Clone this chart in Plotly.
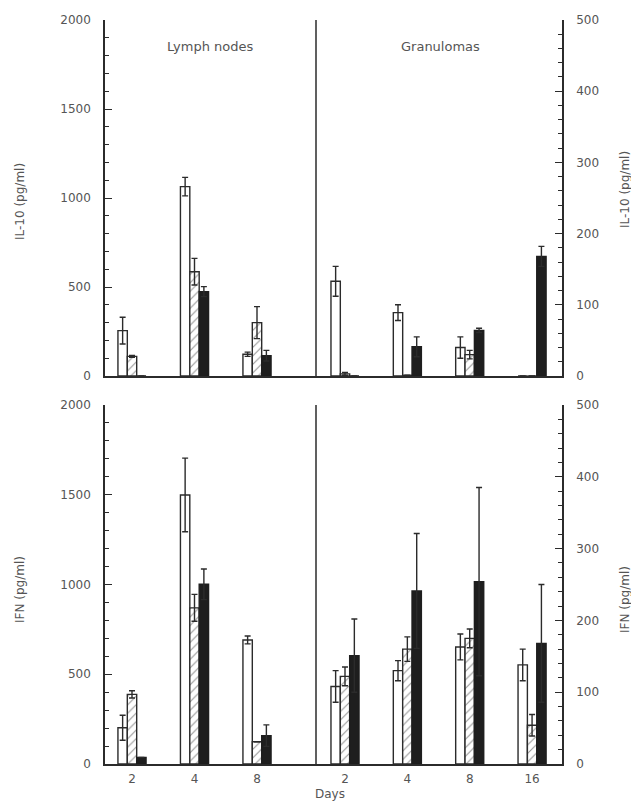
import plotly.graph_objects as go

# ---------------- data ----------------
days_lymph = ["2", "4", "8"]
days_gran = ["2", "4", "8", "16"]

# IL-10 (pg/ml), lymph nodes (left scale 0-2000)
il10_lymph_open = [255, 1064, 122]
il10_lymph_open_err = [75, 52, 12]
il10_lymph_hatch = [110, 586, 300]
il10_lymph_hatch_err = [5, 75, 90]
il10_lymph_solid = [0, 474, 114]
il10_lymph_solid_err = [0, 28, 30]

# IL-10 (pg/ml), granulomas (right scale 0-500)
il10_gran_open = [133, 89, 40, 0]
il10_gran_open_err = [21, 11, 15, 0]
il10_gran_hatch = [3, 1, 30, 0]
il10_gran_hatch_err = [2, 0, 6, 0]
il10_gran_solid = [0, 41, 64, 168]
il10_gran_solid_err = [0, 14, 3, 14]

# IFN (pg/ml), lymph nodes
ifn_lymph_open = [202, 1499, 691]
ifn_lymph_open_err = [70, 205, 22]
ifn_lymph_hatch = [388, 870, 124]
ifn_lymph_hatch_err = [20, 75, 0]
ifn_lymph_solid = [37, 1001, 158]
ifn_lymph_solid_err = [0, 85, 60]

# IFN (pg/ml), granulomas
ifn_gran_open = [108, 130, 163, 138]
ifn_gran_open_err = [22, 14, 18, 22]
ifn_gran_hatch = [122, 160, 175, 54]
ifn_gran_hatch_err = [13, 17, 13, 15]
ifn_gran_solid = [151, 241, 254, 168]
ifn_gran_solid_err = [51, 80, 131, 82]

# ---------------- style ----------------
PAGE_OFF = 8          # default body margin of the page
W, H = 631, 794
INK = "#2b2b2b"
TXT = "#555555"
FONT = "DejaVu Sans"


def px(x):
    return (x - PAGE_OFF) / W


def py(y):
    return 1 - (y - PAGE_OFF) / H


BW = 0.15
fig = go.Figure()


def add_group(xa, ya, cats, vals_err):
    idx = list(range(len(cats)))
    styles = [
        dict(color="white", line=dict(color=INK, width=1.4)),
        dict(color="white", line=dict(color=INK, width=1.4),
             pattern=dict(shape="/", fgcolor=INK, size=6, solidity=0.18)),
        dict(color="#1e1e1e", line=dict(color="#1e1e1e", width=1.4)),
    ]
    offsets = [-1.5 * BW, -0.5 * BW, 0.5 * BW]
    for (vals, errs), st, off in zip(vals_err, styles, offsets):
        fig.add_trace(go.Bar(
            x=idx, y=vals, width=BW, offset=off, marker=st,
            error_y=dict(type="data", array=errs, visible=True,
                         color=INK, thickness=1.4, width=3),
            xaxis=xa, yaxis=ya, showlegend=False,
        ))


add_group("x", "y", days_lymph, [
    (il10_lymph_open, il10_lymph_open_err),
    (il10_lymph_hatch, il10_lymph_hatch_err),
    (il10_lymph_solid, il10_lymph_solid_err)])
add_group("x2", "y2", days_gran, [
    (il10_gran_open, il10_gran_open_err),
    (il10_gran_hatch, il10_gran_hatch_err),
    (il10_gran_solid, il10_gran_solid_err)])
add_group("x3", "y3", days_lymph, [
    (ifn_lymph_open, ifn_lymph_open_err),
    (ifn_lymph_hatch, ifn_lymph_hatch_err),
    (ifn_lymph_solid, ifn_lymph_solid_err)])
add_group("x4", "y4", days_gran, [
    (ifn_gran_open, ifn_gran_open_err),
    (ifn_gran_hatch, ifn_gran_hatch_err),
    (ifn_gran_solid, ifn_gran_solid_err)])

# geometry (target page pixels)
XL0, XMID, XR1 = 105, 316, 562
TOP_Y0, TOP_Y1 = 20, 376
BOT_Y0, BOT_Y1 = 405, 764

dom_left = [px(XL0), px(XMID)]
dom_right = [px(XMID), px(XR1)]
dom_top = [py(TOP_Y1), py(TOP_Y0)]
dom_bot = [py(BOT_Y1), py(BOT_Y0)]

tickfont = dict(family=FONT, size=12, color=TXT)


def xax(domain, anchor, cats, rng, labels):
    return dict(domain=domain, anchor=anchor, range=rng,
                tickmode="array", tickvals=list(range(len(cats))),
                ticktext=cats, showticklabels=labels, ticks="",
                showline=True, linecolor=INK, linewidth=1.5,
                showgrid=False, zeroline=False, tickfont=tickfont,
                ticklabelstandoff=3,
                fixedrange=True, automargin=False)


def yax(domain, anchor, rng, dtick, mdtick, side):
    return dict(domain=domain, anchor=anchor, range=rng, side=side,
                tickmode="linear", tick0=0, dtick=dtick,
                ticks="inside", ticklen=7, tickwidth=1.3, tickcolor=INK,
                minor=dict(dtick=mdtick, ticks="inside", ticklen=4,
                           tickwidth=1.1, tickcolor=INK),
                showline=True, linecolor=INK, linewidth=1.5,
                showgrid=False, zeroline=False, tickfont=tickfont,
                ticklabelstandoff=10, fixedrange=True, automargin=False)


rng_left = [-0.432, 2.944]
rng_right = [-0.465, 3.48]

fig.update_layout(
    width=W, height=H, autosize=False,
    margin=dict(l=0, r=0, t=0, b=0, pad=0),
    paper_bgcolor="white", plot_bgcolor="white",
    barmode="overlay",
    xaxis=xax(dom_left, "y", days_lymph, rng_left, False),
    yaxis=yax(dom_top, "x", [0, 2000], 500, 100, "left"),
    xaxis2=xax(dom_right, "y2", days_gran, rng_right, False),
    yaxis2=yax(dom_top, "x2", [0, 500], 100, 20, "right"),
    xaxis3=xax(dom_left, "y3", days_lymph, rng_left, True),
    yaxis3=yax(dom_bot, "x3", [0, 2000], 500, 100, "left"),
    xaxis4=xax(dom_right, "y4", days_gran, rng_right, True),
    yaxis4=yax(dom_bot, "x4", [0, 500], 100, 20, "right"),
)

# divider lines between lymph nodes and granulomas
for xr, yr in [("x", "y"), ("x3", "y3")]:
    fig.add_shape(type="line", xref=f"{xr} domain", yref=f"{yr} domain",
                  x0=1, x1=1, y0=0, y1=1,
                  line=dict(color=INK, width=1.5))

panel_font = dict(family=FONT, size=13, color=TXT)
title_font = dict(family=FONT, size=12, color=TXT)
annotations = [
    dict(text="Lymph nodes", x=px(210), y=py(47), font=panel_font),
    dict(text="Granulomas", x=px(440), y=py(47), font=panel_font),
    dict(text="IL-10 (pg/ml)", x=px(20), y=py(202), textangle=-90, font=title_font),
    dict(text="IFN (pg/ml)", x=px(20), y=py(590), textangle=-90, font=title_font),
    dict(text="IL-10 (pg/ml)", x=px(625), y=py(190), textangle=-90, font=title_font),
    dict(text="IFN (pg/ml)", x=px(625), y=py(600), textangle=-90, font=title_font),
    dict(text="Days", x=px(330), y=py(794)),
]
for a in annotations:
    a.setdefault("font", title_font)
    fig.add_annotation(xref="paper", yref="paper", showarrow=False,
                       xanchor="center", yanchor="middle", **a)

fig.write_html("out.html")
